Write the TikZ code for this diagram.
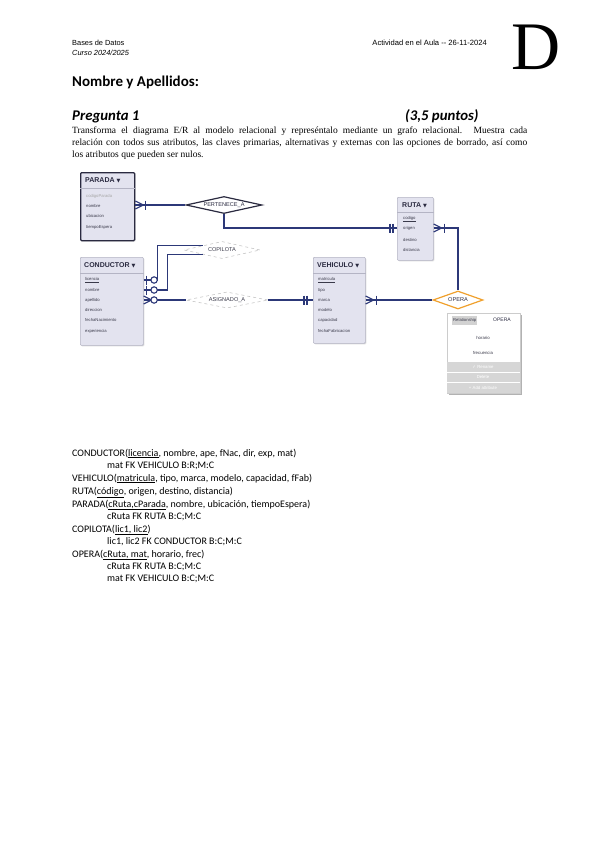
\documentclass[tikz,border=0pt]{standalone}
\usepackage{fontspec}
\setmainfont{Liberation Serif}
\newfontfamily\arial{Liberation Sans}
\newfontfamily\calib{Carlito}
\newfontfamily\dvs{DejaVu Sans}
\usetikzlibrary{shapes.geometric,shadows,calc}
\definecolor{navy}{HTML}{2C3878}
\definecolor{entf}{HTML}{E3E3EF}
\definecolor{entb}{HTML}{B4B4C4}
\definecolor{hdr}{HTML}{2A2A40}
\definecolor{attrc}{HTML}{3A3A4A}
\definecolor{orng}{HTML}{F0A02C}
\definecolor{dgray}{HTML}{BDBDBD}
\definecolor{menug}{HTML}{D6D6D6}
\tikzset{
  entity/.style={draw=entb, fill=entf, line width=0.6pt, rounded corners=1pt, anchor=north west, inner sep=0pt,
     drop shadow={opacity=0.25, shadow xshift=1pt, shadow yshift=-1pt}},
  ehead/.style={font=\arial\bfseries\fontsize{7}{8}\selectfont, text=hdr, anchor=west, inner sep=0pt},
  attr/.style={font=\arial\fontsize{4.2}{5}\selectfont, text=attrc, anchor=west, inner sep=0pt},
  sepline/.style={draw=entb, line width=0.5pt},
  rel/.style={draw=navy, line width=1.3pt},
  relsym/.style={draw=navy, line width=1.1pt},
  rdiam/.style={diamond, shape aspect=5, draw, fill=white, inner sep=0pt, minimum width=76pt, minimum height=17pt,
     font=\arial\fontsize{5.6}{6}\selectfont, text=hdr},
  pics/crowR/.style={code={\draw[relsym] (0,-4) -- (8,0) -- (0,4);}},
  pics/barV/.style={code={\draw[relsym] (0,-4.5) -- (0,4.5);}},
  pics/circO/.style={code={\draw[relsym, fill=white] (0,0) circle (3.2pt);}},
  rl/.style={font=\calib\fontsize{10}{11}\selectfont, anchor=base west, inner sep=0pt},
}
\begin{document}
\begin{tikzpicture}[x=1pt,y=-1pt]
\useasboundingbox (0,0) rectangle (600,848);
\fill[white] (0,0) rectangle (600,848);

% ---------- header ----------
\node[font=\arial\fontsize{7.4}{8}\selectfont, anchor=base west, inner sep=0pt] (bd) at (72,46) {Bases de Datos};
\node[font=\arial\itshape\fontsize{7.4}{8}\selectfont, anchor=base west, inner sep=0pt] (cur) at (72,56) {Curso 2024/2025};
\node[font=\arial\fontsize{7.6}{8}\selectfont, anchor=base east, inner sep=0pt] (act) at (487,46) {Actividad en el Aula -- 26-11-2024};
\node[font=\fontsize{68}{68}\selectfont, anchor=base west, inner sep=0pt] (bigD) at (511,70) {D};
\node[font=\calib\bfseries\fontsize{15}{16}\selectfont, anchor=base west, inner sep=0pt] (nom) at (72,87) {Nombre y Apellidos:};
\node[font=\calib\bfseries\itshape\fontsize{14.8}{16}\selectfont, anchor=base west, inner sep=0pt] (preg) at (72,121) {Pregunta 1};
\node[font=\calib\bfseries\itshape\fontsize{14.8}{16}\selectfont, anchor=base west, inner sep=0pt] (pts) at (405,121) {(3,5 puntos)};
\node[font=\fontsize{9.5}{11.6}\selectfont, anchor=north west, inner sep=0pt, text width=455pt, align=justify] (par1) at (72,127)
 {Transforma el diagrama E/R al modelo relacional y represéntalo mediante un grafo relacional. Muestra cada\linebreak
  relación con todos sus atributos, las claves primarias, alternativas y externas con las opciones de borrado, así como\linebreak
  los atributos que pueden ser nulos.};

% ---------- entities ----------
% PARADA
\node[entity, minimum width=54pt, minimum height=68pt, draw=hdr, line width=1.3pt] (par) at (80,172) {};
\node[ehead] (parh) at (85,180) {PARADA {\dvs\fontsize{5}{5}\selectfont▼}};
\draw[sepline] ($(par.north west)+(0,16)$) -- ($(par.north east)+(0,16)$);
\node[attr, text=gray!70] (pa1) at (86,196) {codigoParada};
\node[attr] (pa2) at (86,206) {nombre};
\node[attr] (pa3) at (86,216) {ubicacion};
\node[attr] (pa4) at (86,227) {tiempoEspera};

% RUTA
\node[entity, minimum width=36pt, minimum height=63pt] (ruta) at (397,197) {};
\node[ehead] (rutah) at (402,205) {RUTA {\dvs\fontsize{5}{5}\selectfont▼}};
\draw[sepline] ($(ruta.north west)+(0,15)$) -- ($(ruta.north east)+(0,15)$);
\node[attr] (rt1) at (403,219) {\underline{codigo}};
\node[attr] (rt2) at (403,228) {origen};
\node[attr] (rt3) at (403,240) {destino};
\node[attr] (rt4) at (403,250) {distancia};

% CONDUCTOR
\node[entity, minimum width=63pt, minimum height=88pt] (cond) at (80,257) {};
\node[ehead] (condh) at (84,265) {CONDUCTOR {\dvs\fontsize{5}{5}\selectfont▼}};
\draw[sepline] ($(cond.north west)+(0,16)$) -- ($(cond.north east)+(0,16)$);
\node[attr] (cd1) at (85,280) {\underline{licencia}};
\node[attr] (cd2) at (85,290) {nombre};
\node[attr] (cd3) at (85,300) {apellido};
\node[attr] (cd4) at (85,310) {direccion};
\node[attr] (cd5) at (85,320) {fechaNacimiento};
\node[attr] (cd6) at (85,331) {experiencia};

% VEHICULO
\node[entity, minimum width=52pt, minimum height=86pt] (veh) at (313,257) {};
\node[ehead] (vehh) at (317,265) {VEHICULO {\dvs\fontsize{5}{5}\selectfont▼}};
\draw[sepline] ($(veh.north west)+(0,16)$) -- ($(veh.north east)+(0,16)$);
\node[attr] (vh1) at (318,280) {\underline{matricula}};
\node[attr] (vh2) at (318,290) {tipo};
\node[attr] (vh3) at (318,300) {marca};
\node[attr] (vh4) at (318,310) {modelo};
\node[attr] (vh5) at (318,320) {capacidad};
\node[attr] (vh6) at (318,331) {fechaFabricacion};

% ---------- relationships ----------
\node[rdiam, draw=hdr, line width=1.2pt] (pert) at (224,205) {PERTENECE\_A};
\node[rdiam, draw=dgray, dashed, line width=0.5pt, text=attrc] (cop) at (222,250) {COPILOTA};
\node[rdiam, draw=dgray, dashed, line width=0.5pt, text=attrc, minimum width=82pt, minimum height=16pt] (asig) at (227,300) {ASIGNADO\_A};
\node[rdiam, draw=orng, line width=1.2pt, shape aspect=2.8, minimum width=50pt, minimum height=18pt] (opera) at (458,300) {OPERA};

% ---------- connectors ----------
\draw[rel] (par.east |- pert) -- (pert.west);
\draw[rel] (pert.south) |- (ruta.west |- rt2);
\draw[rel] (ruta.east |- rt2) -| (opera.north);
\draw[rel] (veh.east |- opera) -- (opera.west);
\draw[rel] (cond.east |- cd3) -- (asig.west);
\draw[rel] (asig.east) -- (veh.west |- asig);
\draw[rel] (cond.east |- cd1) -- ++(14,0) |- (cop.north west);
\draw[rel] (cond.east |- cd2) -- ++(24,0) |- (cop.south west);

% cardinality symbols
\pic at (par.east |- pert) {crowR};
\pic at ($(par.east |- pert)+(10,0)$) {barV};
\pic at ($(ruta.west |- rt2)+(-7,0)$) {barV};
\pic at ($(ruta.west |- rt2)+(-4,0)$) {barV};
\pic at (ruta.east |- rt2) {crowR};
\pic at ($(ruta.east |- rt2)+(11,0)$) {barV};
\pic at (veh.east |- opera) {crowR};
\pic at ($(veh.east |- opera)+(11,0)$) {barV};
\pic at ($(veh.west |- asig)+(-9,0)$) {barV};
\pic at ($(veh.west |- asig)+(-6,0)$) {barV};
\pic at (cond.east |- cd3) {crowR};
\pic at ($(cond.east |- cd3)+(10.5,0)$) {circO};
\pic at ($(cond.east |- cd1)+(3,0)$) {barV};
\pic at ($(cond.east |- cd1)+(10.5,0)$) {circO};
\pic at ($(cond.east |- cd2)+(3,0)$) {barV};
\pic at ($(cond.east |- cd2)+(10.5,0)$) {circO};

% ---------- OPERA popup ----------
\node[anchor=north west, minimum width=73pt, minimum height=80pt, inner sep=0pt, fill=white, draw=gray!40, line width=0.4pt,
      drop shadow={opacity=0.6, shadow xshift=1.5pt, shadow yshift=-1.5pt}] (pop) at (447,313) {};
\fill[menug] ($(pop.south west)+(0,-31)$) rectangle (pop.south east);
\draw[white, line width=0.6pt] ($(pop.south west)+(0,-21)$) -- ($(pop.south east)+(0,-21)$);
\draw[white, line width=0.6pt] ($(pop.south west)+(0,-11)$) -- ($(pop.south east)+(0,-11)$);
\node[anchor=west, fill=gray!35, inner sep=1pt, font=\arial\fontsize{4.2}{5}\selectfont, text=attrc, minimum height=9pt] (poprel) at (452,320) {Relationship};
\node[anchor=west, inner sep=0pt, font=\arial\fontsize{5}{6}\selectfont, text=hdr] (popname) at (493,320) {OPERA};
\node[inner sep=0pt, font=\arial\fontsize{4.3}{5}\selectfont, text=attrc] (pophor) at (483,338) {horario};
\node[inner sep=0pt, font=\arial\fontsize{4.3}{5}\selectfont, text=attrc] (popfre) at (483,353) {frecuencia};
\node[inner sep=0pt, font=\arial\fontsize{4.3}{5}\selectfont, text=white] (popm1) at (483,367) {{\dvs ✓} Rename};
\node[inner sep=0pt, font=\arial\fontsize{4.3}{5}\selectfont, text=white] (popm2) at (483,377) {Delete};
\node[inner sep=0pt, font=\arial\fontsize{4.3}{5}\selectfont, text=white] (popm3) at (483,388) {+ Add attribute};

% ---------- relational model ----------
\node[rl] (l1) at (72,456) {CONDUCTOR(\underline{licencia}, nombre, ape, fNac, dir, exp, mat)};
\node[rl] (l2) at (107,468) {mat FK VEHICULO B:R;M:C};
\node[rl] (l3) at (72,481) {VEHICULO(\underline{matricula}, tipo, marca, modelo, capacidad, fFab)};
\node[rl] (l4) at (72,494) {RUTA(\underline{código}, origen, destino, distancia)};
\node[rl] (l5) at (72,507) {PARADA(\underline{cRuta,cParada}, nombre, ubicación, tiempoEspera)};
\node[rl] (l6) at (107,519) {cRuta FK RUTA B:C;M:C};
\node[rl] (l7) at (72,532) {COPILOTA(\underline{lic1, lic2})};
\node[rl] (l8) at (107,544) {lic1, lic2 FK CONDUCTOR B:C;M:C};
\node[rl] (l9) at (72,557) {OPERA(\underline{cRuta, mat}, horario, frec)};
\node[rl] (l10) at (107,569) {cRuta FK RUTA B:C;M:C};
\node[rl] (l11) at (107,581) {mat FK VEHICULO B:C;M:C};
\end{tikzpicture}
\end{document}
